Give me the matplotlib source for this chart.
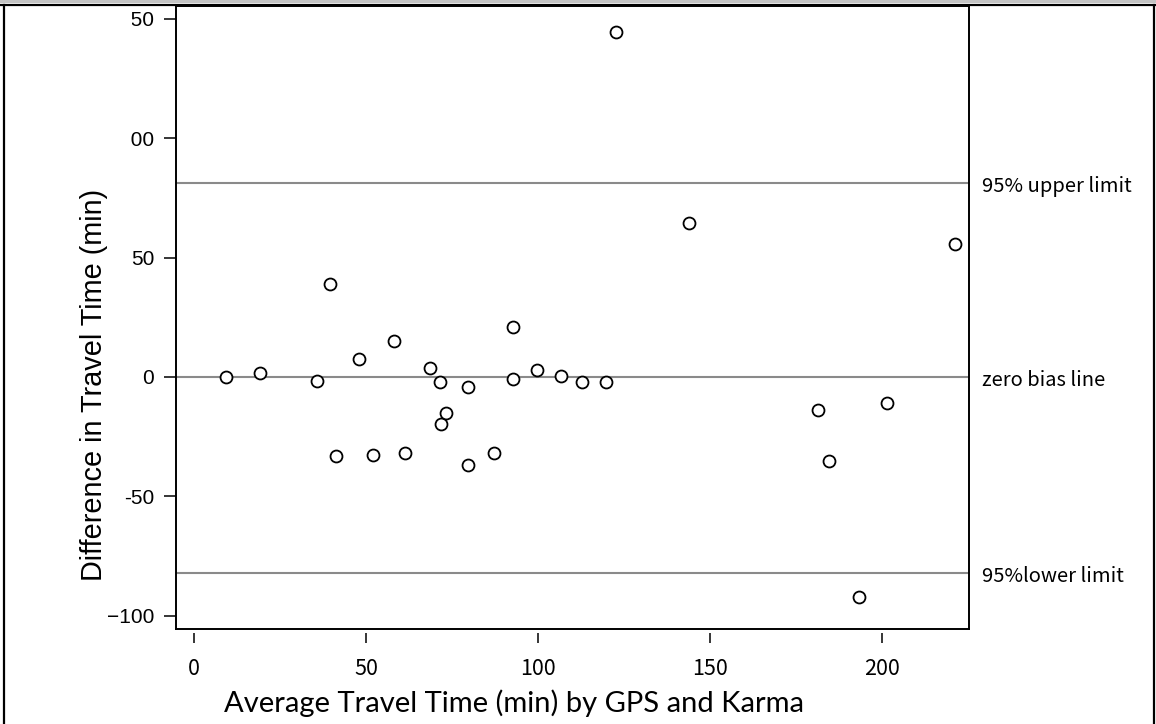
import matplotlib
matplotlib.use("Agg")
import matplotlib.pyplot as plt
from matplotlib.lines import Line2D
from matplotlib.patches import Rectangle
from matplotlib.transforms import Bbox, blended_transform_factory, offset_copy

# 平均旅行时间 (x) 与差值 (y)
avg_time = [9.3, 19.3, 35.9, 39.5, 41.4, 47.9, 51.9, 58.0, 61.4, 68.6,
            71.6, 71.7, 73.2, 79.5, 79.7, 87.1, 92.6, 92.8, 99.8, 106.8,
            112.7, 119.8, 122.6, 143.8, 181.3, 184.5, 193.3, 201.4, 221.2]
diff_time = [-0.1, 1.8, -1.7, 38.8, -33.0, 7.5, -32.6, 15.2, -32.0, 3.9,
             -2.1, -19.8, -15.1, -36.9, -4.2, -31.7, 20.8, -0.7, 2.9, 0.4,
             -2.1, -2.1, 144.7, 64.6, -13.8, -35.2, -92.2, -10.9, 55.6]

# 一致性界限
limit_values = [81.3, 0, -82.1]
limit_labels = ['95% upper limit', 'zero bias line', '95%lower limit']

x_ticks = [0, 50, 100, 150, 200]
y_ticks = [-100, -50, 0, 50, 100, 150]
y_tick_labels = ['\u2212100', '-50', '0', '50', '100', '150']

W, H = 1156, 724
fig = plt.figure(figsize=(W / 100, H / 100), dpi=100)
ax = fig.add_axes([176 / W, (H - 629) / H, (969 - 176) / W, (629 - 6) / H])

# 参考线
for v in limit_values:
    ax.axhline(v, color='#8a8a8a', lw=1.5, zorder=1)

ax.plot(avg_time, diff_time, 'o', ms=8.6, mfc='white', mec='black', mew=1.3,
        linestyle='none', zorder=3)

ax.set_xlim(-5.2, 225.2)
ax.set_ylim(-105.6, 155.4)

for s in ax.spines.values():
    s.set_linewidth(1.4)
# 横轴刻度与边框分开
ax.spines['bottom'].set_position(('outward', 3))
ax.spines['bottom'].set_visible(False)
ax.plot([0, 1], [0, 0], transform=ax.transAxes, color='black', lw=1.4,
        clip_on=False, solid_capstyle='projecting', zorder=4)

ax.set_xticks(x_ticks)
ax.set_xticklabels([str(t) for t in x_ticks], family=['Noto Sans CJK JP', 'DejaVu Sans'], fontsize=15.5)
ax.set_yticks(y_ticks)
ax.set_yticklabels(y_tick_labels, family=['Liberation Sans', 'DejaVu Sans'], fontsize=15)
ax.tick_params(axis='x', direction='out', length=7.2, width=1.1, pad=11)
ax.tick_params(axis='y', direction='out', length=8.6, width=1.1, pad=7)

# 右侧标注
trans = blended_transform_factory(ax.transAxes, ax.transData)
trans = offset_copy(trans, fig=fig, x=0, y=-4, units='dots')
for v, t in zip(limit_values, limit_labels):
    ax.text(1.017, v, t, transform=trans, va='center', ha='left',
            fontsize=14.5, family=['Noto Sans CJK JP', 'DejaVu Sans'], clip_on=False)

fig.text(94 / W, (H - 384.5) / H, 'Difference in Travel Time (min)', rotation=90,
         ha='center', va='center', fontsize=20.8, family=['Liberation Sans', 'DejaVu Sans'])
fig.text(514 / W, (H - 712) / H, 'Average Travel Time (min) by GPS and Karma',
         ha='center', va='baseline', fontsize=21, family=['Lato', 'DejaVu Sans'])

# 外框
fig.add_artist(Rectangle((0, (H - 3) / H), 1, 3 / H, transform=fig.transFigure,
                         facecolor='#c4c4c4', edgecolor='none'))
fig.add_artist(Line2D([0, 1], [(H - 5) / H] * 2, transform=fig.transFigure, color='black', lw=1.6))
fig.add_artist(Line2D([4 / W] * 2, [0, (H - 5) / H], transform=fig.transFigure, color='black', lw=1.6))
fig.add_artist(Line2D([1154 / W] * 2, [0, (H - 5) / H], transform=fig.transFigure, color='black', lw=1.6))

# 左边被裁掉的首位数字：只留后两位
fig.canvas.draw()
renderer = fig.canvas.get_renderer()
for lab in ax.get_yticklabels():
    if lab.get_text() in ('150', '100'):
        bb = lab.get_window_extent(renderer)
        x_cut = bb.x1 - bb.width * 2 / 3 + 0.5
        lab.set_clip_on(True)
        lab.set_clip_box(Bbox([[x_cut, 0], [W, H]]))

fig.savefig('out.png', dpi=100)
